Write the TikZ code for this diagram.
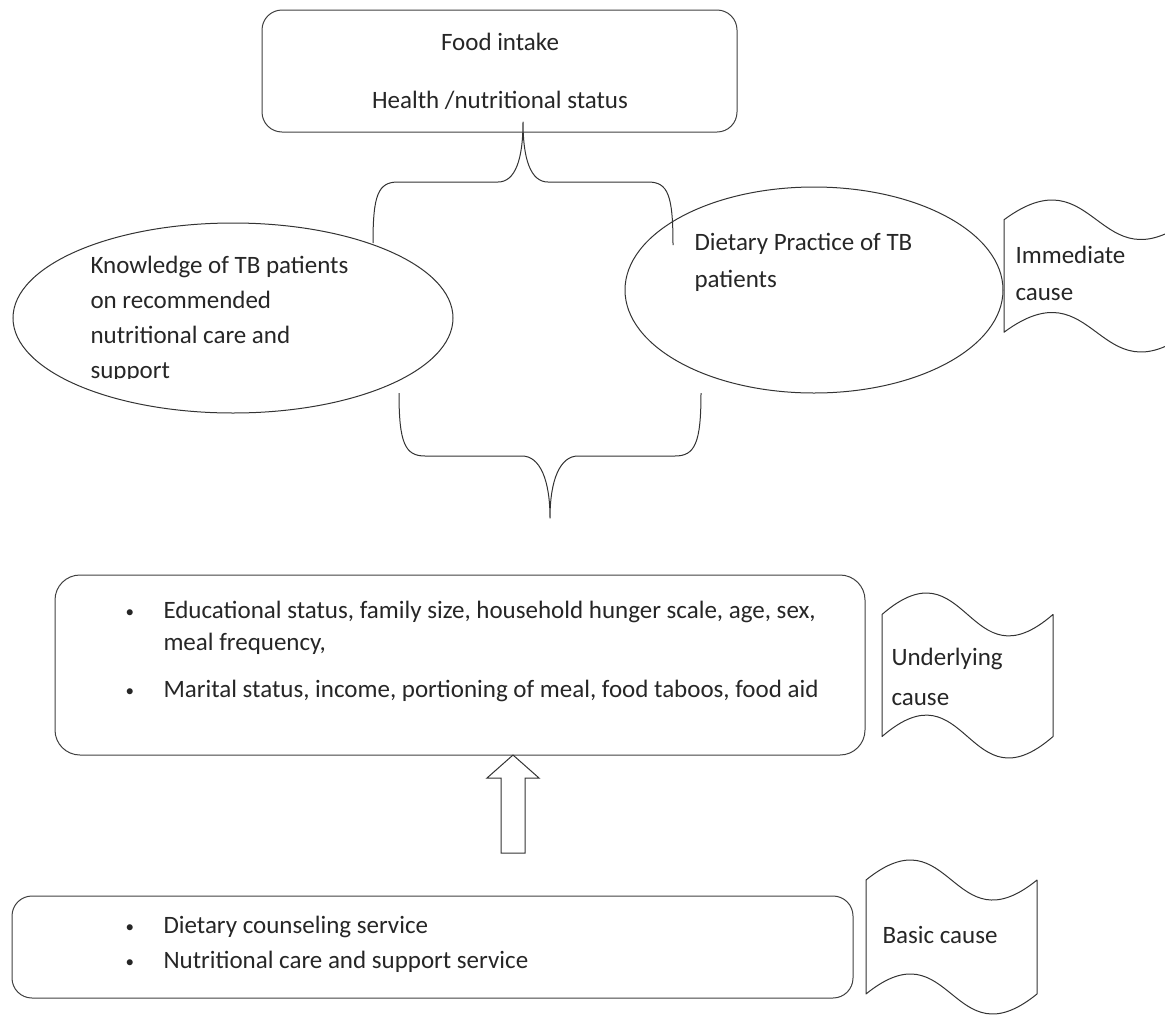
\documentclass[tikz,border=0pt]{standalone}
\usepackage{fontspec}
\setmainfont{Carlito}
\usetikzlibrary{shapes.geometric}

% wavy tag shape: x, top y, width, height
\newcommand{\tapeshape}[4]{%
  \draw [curve] (#1,#2+0.13*#4)
    .. controls (#1+0.5*#3,#2-0.32*#4) and (#1+0.5*#3,#2+0.58*#4) .. (#1+#3,#2+0.13*#4)
    -- (#1+#3,#2+0.87*#4)
    .. controls (#1+0.5*#3,#2+1.32*#4) and (#1+0.5*#3,#2+0.42*#4) .. (#1,#2+0.87*#4)
    -- cycle;}
\newcommand{\dotmark}{\makebox[38pt][l]{\raisebox{1pt}{\fontsize{17}{17}\selectfont\textbullet}}}

\begin{document}
\begin{tikzpicture}[x=1pt, y=-1pt, line width=1pt]
    % Define styles
    \tikzstyle{block} = [draw=black!75, rounded corners=20pt, inner sep=0pt]
    \tikzstyle{oval} = [draw=black!80, ellipse, inner sep=0pt]
    \tikzstyle{txt} = [inner sep=0pt, align=left, text=black!85,
        font=\fontsize{25}{35}\selectfont]
    \tikzstyle{curve} = [draw=black!80, line join=round]

    \useasboundingbox (0,0) rectangle (1165,1018);

    % Outcome
    \node [block, minimum width=475pt, minimum height=122pt] (status) at (499.5,71) {};
    \node [txt] (food) at (500,42) {Food intake};
    \node [txt] (health) at (500,100) {Health /nutritional status};

    % Immediate causes
    \node [oval, minimum width=440pt, minimum height=190pt] (knowledge) at (233,318) {};
    \node [oval, minimum width=378pt, minimum height=206pt] (practice) at (814,290) {};
    \begin{scope}
        \clip (0,0) rectangle (1165,378);
        \node [txt, anchor=north west] (knowtext) at (90,256)
            {Knowledge of TB patients\\on recommended\\nutritional care and\\support};
    \end{scope}
    \node [txt, anchor=north west] (practext) at (694,233) {Dietary Practice of TB\\[2pt]patients};

    % Braces
    \coordinate (toptip) at (523,122);
    \coordinate (lowtip) at (550,518);
    \draw [curve] (373,243) .. controls (373,195) and (378,182) .. (398,182) -- (498,182)
        .. controls (515,182) and (523,160) .. (toptip)
        .. controls (523,160) and (531,182) .. (548,182) -- (648,182)
        .. controls (668,182) and (673,195) .. (673,245);
    \draw [curve] (399,393) .. controls (399,443) and (405,456) .. (425,456) -- (522,456)
        .. controls (540,456) and (550,480) .. (lowtip)
        .. controls (550,480) and (560,456) .. (578,456) -- (675,456)
        .. controls (695,456) and (701,443) .. (701,393);

    % Underlying causes
    \node [block, rounded corners=25pt, minimum width=810pt, minimum height=180pt] (under) at (460,665) {};
    \node [txt, anchor=north west, font=\fontsize{25}{32}\selectfont] (undertext) at (125,601)
        {\dotmark Educational status, family size, household hunger scale, age, sex,\\
         \hspace*{38pt}meal frequency,\\[15pt]
         \dotmark Marital status, income, portioning of meal, food taboos, food aid};

    % Arrow
    \coordinate (uptip) at (513,755);
    \draw [curve, line join=miter] (uptip) -- ++(26,23) -- ++(-14,0) -- ++(0,75)
        -- ++(-24,0) -- ++(0,-75) -- ++(-14,0) -- cycle;

    % Basic causes
    \node [block, minimum width=841pt, minimum height=102pt] (basic) at (432.5,947) {};
    \node [txt, anchor=north west] (basictext) at (125,916)
        {\dotmark Dietary counseling service\\
         \dotmark Nutritional care and support service};

    % Tags
    \tapeshape{1004}{200}{185}{152}
    \tapeshape{882}{593}{171}{165}
    \tapeshape{866}{860}{171}{154}
    \node [txt, anchor=north west] (immtext) at (1015,246) {Immediate\\[2pt]cause};
    \node [txt, anchor=north west] (undertag) at (891,648) {Underlying\\[5pt]cause};
    \node [txt, anchor=west] (basictag) at (882,935) {Basic cause};
\end{tikzpicture}
\end{document}
